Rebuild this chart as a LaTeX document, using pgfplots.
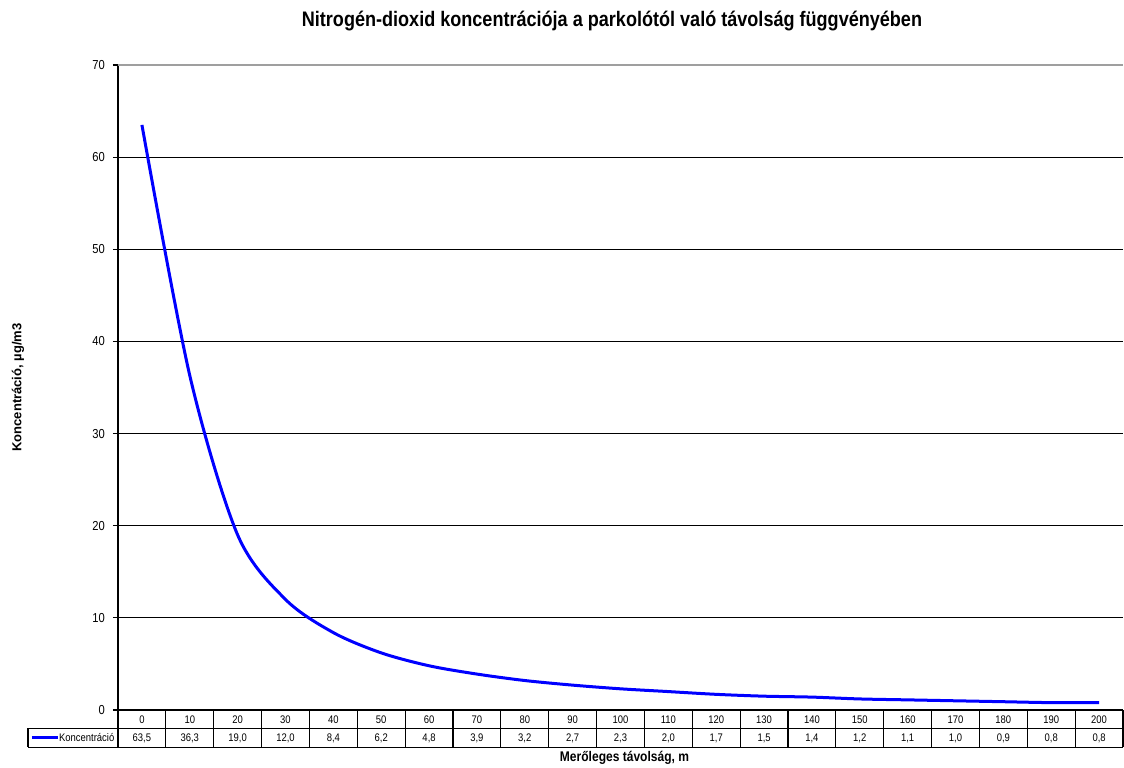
\documentclass[border=0pt]{standalone}
\usepackage{fontspec}
\setmainfont{Liberation Sans}
\newfontfamily\narrow{Liberation Sans}[FakeStretch=0.86]
\usepackage{pgfplots}
\usepackage{pgfplotstable}
\pgfplotsset{compat=1.18}

\pgfplotstableread{
x cat val
0 0 63,5
1 10 36,3
2 20 19,0
3 30 12,0
4 40 8,4
5 50 6,2
6 60 4,8
7 70 3,9
8 80 3,2
9 90 2,7
10 100 2,3
11 110 2,0
12 120 1,7
13 130 1,5
14 140 1,4
15 150 1,2
16 160 1,1
17 170 1,0
18 180 0,9
19 190 0,8
20 200 0,8
}\tabledata

\pgfplotstableread{
x y
0 63.5
1 36.3
2 19.0
3 12.0
4 8.4
5 6.2
6 4.8
7 3.9
8 3.2
9 2.7
10 2.3
11 2.0
12 1.7
13 1.5
14 1.4
15 1.2
16 1.1
17 1.0
18 0.9
19 0.8
20 0.8
}\conc

\begin{document}
\begin{tikzpicture}
\begin{axis}[
  name=ax,
  scale only axis,
  width=502.5pt, height=322.5pt,
  xmin=-0.5, xmax=20.5,
  ymin=0, ymax=70,
  ytick={0,10,...,60},
  extra y ticks={70},
  extra y tick style={grid=none},
  xtick=\empty,
  axis x line*=bottom,
  axis y line*=left,
  axis line style={black, line width=0.6pt, -},
  ymajorgrids,
  major grid style={black, line width=0.5pt},
  ytick style={black, line width=0.6pt},
  major tick length=2.5pt,
  tick align=outside,
  /pgf/number format/assume math mode=true,
  yticklabel style={font=\narrow\fontsize{6.5}{7}\selectfont, xshift=-0.5pt},
  clip=false,
  title={Nitrogén-dioxid koncentrációja a parkolótól való távolság függvényében},
  title style={font=\narrow\bfseries\fontsize{10.5}{12}\selectfont, at={(axis description cs:0.4915,1.0496)}, anchor=center},
  ylabel={Koncentráció, µg/m3},
  ylabel style={font=\bfseries\fontsize{6.5}{7}\selectfont, at={(axis description cs:-0.0995,0.5)}, anchor=center},
  xlabel={Merőleges távolság, m},
  xlabel style={font=\narrow\bfseries\fontsize{7}{8}\selectfont, at={(axis description cs:0.504,-0.0744)}, anchor=center},
]
\draw[gray!75, line width=0.7pt] (axis cs:-0.5,70) -- (axis cs:20.5,70);
\addplot[blue, line width=1.5pt, smooth, tension=0.5] table[x=x, y=y] {\conc};
% data table rows
\addplot[draw=none, mark=none, nodes near coords, point meta=explicit symbolic,
  every node near coord/.style={anchor=center, font=\narrow\fontsize{5.5}{6}\selectfont, inner sep=0pt}]
  table[x=x, y expr=-1.0, meta=cat] {\tabledata};
\addplot[draw=none, mark=none, nodes near coords, point meta=explicit symbolic,
  every node near coord/.style={anchor=center, font=\narrow\fontsize{5.5}{6}\selectfont, inner sep=0pt}]
  table[x=x, y expr=-3.03, meta=val] {\tabledata};
% table grid
\draw[black, line width=0.6pt] (axis cs:-0.5,-2.0) -- (axis cs:20.5,-2.0);
\draw[black, line width=0.6pt] (axis cs:-2.38,-4.05) -- (axis cs:20.5,-4.05);
\draw[black, line width=0.6pt] (axis cs:-2.38,-2.0) -- (axis cs:-0.5,-2.0);
\draw[black, line width=0.6pt] (axis cs:-2.38,-2.0) -- (axis cs:-2.38,-4.05);
\pgfplotsinvokeforeach{0,...,21}{
  \draw[black, line width=0.6pt] (axis cs:#1-0.5,0) -- (axis cs:#1-0.5,-4.05);
}
\draw[blue, line width=1.5pt] (axis cs:-2.3,-3.03) -- (axis cs:-1.75,-3.03);
\node[anchor=west, font=\narrow\fontsize{5.5}{6}\selectfont, inner sep=0pt] at (axis cs:-1.74,-3.03) {Koncentráció};
\end{axis}
\pgfresetboundingbox
\path[use as bounding box] (ax.south west) ++(-59pt,-28.5pt) rectangle ++(562pt,383.5pt);
\end{tikzpicture}
\end{document}
